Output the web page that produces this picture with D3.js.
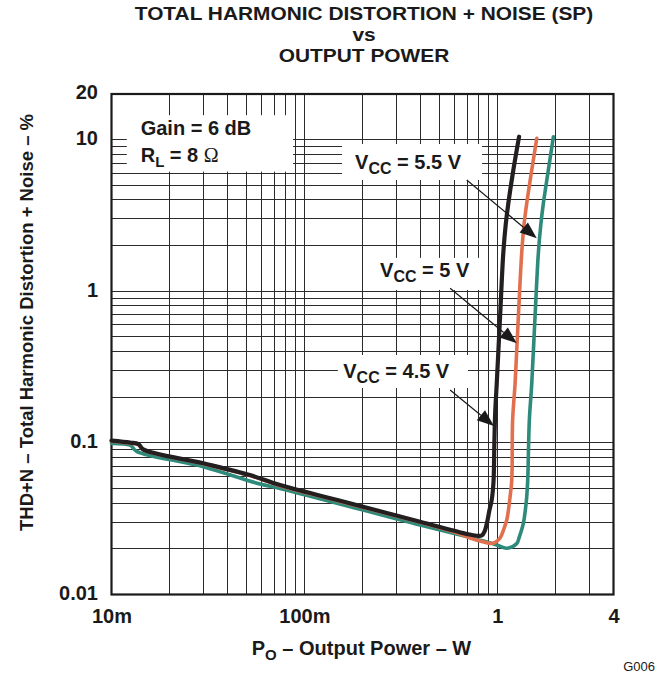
<!DOCTYPE html>
<html>
<head>
<meta charset="utf-8">
<script src="https://cdn.jsdelivr.net/npm/d3@7"></script>
<style>
  html, body { margin: 0; padding: 0; background: #fff; }
  svg { display: block; }
  text { font-family: "Liberation Sans", Arial, Helvetica, sans-serif; fill: #1a1a1a; }
</style>
</head>
<body>
<svg id="chart" width="665" height="674"></svg>
<script>
// ---------------- DATA ----------------
const titleLines = ["TOTAL HARMONIC DISTORTION + NOISE (SP)", "vs", "OUTPUT POWER"];
const xTickValues = [0.01, 0.1, 1, 4];
const xTickLabels = ["10m", "100m", "1", "4"];
const yTickValues = [0.01, 0.1, 1, 10, 20];
const yTickLabels = ["0.01", "0.1", "1", "10", "20"];

// VCC = 4.5 V (black)
const vcc45Power = [0.01, 0.0125, 0.0138, 0.0146, 0.0299, 0.0522, 0.0747, 0.15, 0.3975, 0.70, 0.78, 0.83, 0.86, 0.885, 0.91, 0.935, 0.955, 0.965, 0.975, 0.993, 1.033, 1.074, 1.105, 1.14, 1.21, 1.296];
const vcc45Thd   = [0.1036, 0.1005, 0.0982, 0.0906, 0.0733, 0.0613, 0.0527, 0.0418, 0.0302, 0.0250, 0.0244, 0.0245, 0.0262, 0.0300, 0.036, 0.042, 0.055, 0.10, 0.16, 0.247, 0.679, 1.80, 2.75, 3.80, 6.30, 10.45];

// VCC = 5 V (orange)
const vcc5Power = [0.01, 0.0125, 0.0138, 0.0146, 0.0299, 0.0522, 0.0747, 0.15, 0.3975, 0.60, 0.722, 0.85, 0.917, 0.97, 1.033, 1.08, 1.119, 1.145, 1.164, 1.188, 1.20, 1.236, 1.285, 1.338, 1.375, 1.42, 1.508, 1.601];
const vcc5Thd   = [0.1025, 0.0995, 0.0975, 0.0900, 0.0728, 0.0608, 0.0522, 0.0414, 0.0299, 0.0258, 0.0236, 0.0222, 0.0217, 0.0220, 0.0236, 0.027, 0.031, 0.037, 0.0441, 0.0569, 0.1415, 0.247, 0.679, 1.80, 2.75, 3.80, 6.30, 10.2];

// VCC = 5.5 V (teal)
const vcc55Power = [0.01, 0.0125, 0.0135, 0.0299, 0.0589, 0.0747, 0.3975, 0.70, 0.85, 0.993, 1.119, 1.261, 1.30, 1.364, 1.40, 1.42, 1.437, 1.465, 1.508, 1.568, 1.632, 1.68, 1.732, 1.838, 1.952];
const vcc55Thd   = [0.0993, 0.0965, 0.088, 0.0696, 0.0535, 0.0501, 0.0287, 0.0240, 0.0225, 0.0212, 0.0202, 0.0217, 0.024, 0.0295, 0.037, 0.0441, 0.0569, 0.1415, 0.247, 0.679, 1.80, 2.75, 3.80, 6.30, 10.45];

const seriesNames = ["VCC = 5.5 V", "VCC = 5 V", "VCC = 4.5 V"];
const seriesColors = ["#2e8b7b", "#e2704f", "#231f20"];

// annotation anchors in data units
const boxRanges = [
  {x0: 0.0120, x1: 0.0873, y0: 6.15, y1: 14.5},   // gain box
  {x0: 0.1567, x1: 0.833, y0: 5.42, y1: 9.36},    // 5.5 V
  {x0: 0.232, x1: 0.86, y0: 1.02, y1: 1.66},      // 5 V
  {x0: 0.149, x1: 0.705, y0: 0.23, y1: 0.38}      // 4.5 V
];
const labelAnchors = [
  {x: 0.183, y: 6.37},   // 5.5 V
  {x: 0.2466, y: 1.247}, // 5 V
  {x: 0.159, y: 0.2665}  // 4.5 V
];
const arrowFrom = [{x: 0.694, y: 5.42}, {x: 0.569, y: 1.046}, {x: 0.569, y: 0.2231}];
const arrowTo   = [{x: 1.601, y: 2.234}, {x: 1.261, y: 0.4535}, {x: 0.961, y: 0.129}];
const gainAnchor = {x: 0.01417, y1: 10.73, y2: 7.15};

// ---------------- CHART ----------------
const svg = d3.select("#chart");
const plotLeft = 111.5, plotRight = 613.5, plotTop = 94, plotBottom = 594.5;

const x = d3.scaleLog().domain([0.01, 4]).range([plotLeft, plotRight]);
const y = d3.scaleLog().domain([0.01, 20]).range([plotBottom, plotTop]);

// grid values
const xGrid = [];
for (let k = -2; k <= 0; k++) for (let m = 1; m <= 9; m++) { const v = m * Math.pow(10, k); if (v < 4 - 1e-9) xGrid.push(v); }
const yGrid = [];
for (let k = -2; k <= 1; k++) for (let m = 1; m <= 9; m++) { const v = m * Math.pow(10, k); if (v < 20 - 1e-9) yGrid.push(v); }

const grid = svg.append("g").attr("stroke", "#2b2b2b").attr("stroke-width", 1).attr("shape-rendering", "crispEdges");
grid.selectAll("line.v").data(xGrid).join("line").attr("class", "v")
  .attr("x1", d => x(d)).attr("x2", d => x(d)).attr("y1", plotTop).attr("y2", plotBottom);
grid.selectAll("line.h").data(yGrid).join("line").attr("class", "h")
  .attr("x1", plotLeft).attr("x2", plotRight).attr("y1", d => y(d)).attr("y2", d => y(d));

// white label boxes
svg.append("g").selectAll("rect").data(boxRanges).join("rect")
  .attr("x", d => x(d.x0)).attr("y", d => y(d.y1))
  .attr("width", d => x(d.x1) - x(d.x0)).attr("height", d => y(d.y0) - y(d.y1))
  .attr("fill", "#fff");

// frame
svg.append("rect").attr("x", plotLeft).attr("y", plotTop).attr("width", plotRight - plotLeft).attr("height", plotBottom - plotTop)
  .attr("fill", "none").attr("stroke", "#1a1a1a").attr("stroke-width", 2.2);

// curves
const seriesData = [
  vcc55Power.map((p, i) => [p, vcc55Thd[i]]),
  vcc5Power.map((p, i) => [p, vcc5Thd[i]]),
  vcc45Power.map((p, i) => [p, vcc45Thd[i]])
];
const line = d3.line().x(d => x(d[0])).y(d => y(d[1])).curve(d3.curveCatmullRom.alpha(0.5));
svg.append("g").selectAll("path").data(seriesData).join("path")
  .attr("d", line).attr("fill", "none")
  .attr("stroke", (d, i) => seriesColors[i])
  .attr("stroke-width", (d, i) => i === 2 ? 4.2 : 3.6)
  .attr("stroke-linejoin", "round").attr("stroke-linecap", "round");

// axes
const yAxis = d3.axisLeft(y).tickValues(yTickValues).tickFormat((d, i) => yTickLabels[i]).tickSize(0).tickPadding(13.5);
const gy = svg.append("g").attr("transform", `translate(${plotLeft},0)`).call(yAxis);
gy.select(".domain").remove();
gy.selectAll("text").attr("dy", "0.24em").style("font-size", "20px").style("font-weight", "bold")
  .style("font-family", "'Liberation Sans', Arial, sans-serif").attr("fill", "#1a1a1a");

const xAxis = d3.axisBottom(x).tickValues(xTickValues).tickFormat((d, i) => xTickLabels[i]).tickSize(0).tickPadding(14);
const gx = svg.append("g").attr("transform", `translate(0,${plotBottom})`).call(xAxis);
gx.select(".domain").remove();
gx.selectAll("text").style("font-size", "20px").style("font-weight", "bold")
  .style("font-family", "'Liberation Sans', Arial, sans-serif").attr("fill", "#1a1a1a");

// title (glyphs slightly widened like the reference)
const titleY = [20.5, 41.3, 62.2];
svg.append("g").attr("transform", "translate(364,0) scale(1.13,1)")
  .selectAll("text").data(titleLines).join("text")
  .attr("x", 0).attr("y", (d, i) => titleY[i]).attr("text-anchor", "middle")
  .style("font-size", "18.5px").style("font-weight", "bold").text(d => d);

// axis titles
const xl = svg.append("text").attr("x", 361.5).attr("y", 655).attr("text-anchor", "middle")
  .style("font-size", "20px").style("font-weight", "bold");
xl.append("tspan").text("P");
xl.append("tspan").attr("dy", 5).style("font-size", "15px").text("O");
xl.append("tspan").attr("dy", -5).text(" – Output Power – W");

svg.append("text").attr("transform", "translate(32.5,322.5) rotate(-90)").attr("text-anchor", "middle")
  .style("font-size", "18.5px").style("font-weight", "bold")
  .text("THD+N – Total Harmonic Distortion + Noise – %");

svg.append("text").attr("x", 655).attr("y", 671).attr("text-anchor", "end")
  .style("font-size", "13px").text("G006");

// gain / RL text
svg.append("text").attr("x", x(gainAnchor.x)).attr("y", y(gainAnchor.y1))
  .style("font-size", "20px").style("font-weight", "bold").text("Gain = 6 dB");
const rl = svg.append("text").attr("x", x(gainAnchor.x)).attr("y", y(gainAnchor.y2))
  .style("font-size", "20px").style("font-weight", "bold");
rl.append("tspan").text("R");
rl.append("tspan").attr("dy", 5).style("font-size", "15px").text("L");
rl.append("tspan").attr("dy", -5).text(" = 8 ");
rl.append("tspan").style("font-family", "'Liberation Serif', 'Times New Roman', serif").style("font-weight", "normal").text("Ω");

// VCC labels
const vccValues = ["5.5", "5", "4.5"];
labelAnchors.forEach((a, i) => {
  const t = svg.append("text").attr("x", x(a.x)).attr("y", y(a.y))
    .style("font-size", "20px").style("font-weight", "bold");
  t.append("tspan").text("V");
  t.append("tspan").attr("dy", 5).style("font-size", "16px").text("CC");
  t.append("tspan").attr("dy", -5).text(` = ${vccValues[i]} V`);
});

// arrows
arrowFrom.forEach((f, i) => {
  const x1 = x(f.x), y1 = y(f.y), x2 = x(arrowTo[i].x), y2 = y(arrowTo[i].y);
  const dx = x2 - x1, dy = y2 - y1, len = Math.hypot(dx, dy);
  const ux = dx / len, uy = dy / len;
  const hl = 17, hw = 6.5;
  const bx = x2 - ux * hl, by = y2 - uy * hl;
  svg.append("line").attr("x1", x1).attr("y1", y1).attr("x2", bx).attr("y2", by)
    .attr("stroke", "#1a1a1a").attr("stroke-width", 1.2);
  svg.append("path")
    .attr("d", `M${x2},${y2}L${bx - uy * hw},${by + ux * hw}L${bx + uy * hw},${by - ux * hw}Z`)
    .attr("fill", "#1a1a1a");
});
</script>
</body>
</html>
